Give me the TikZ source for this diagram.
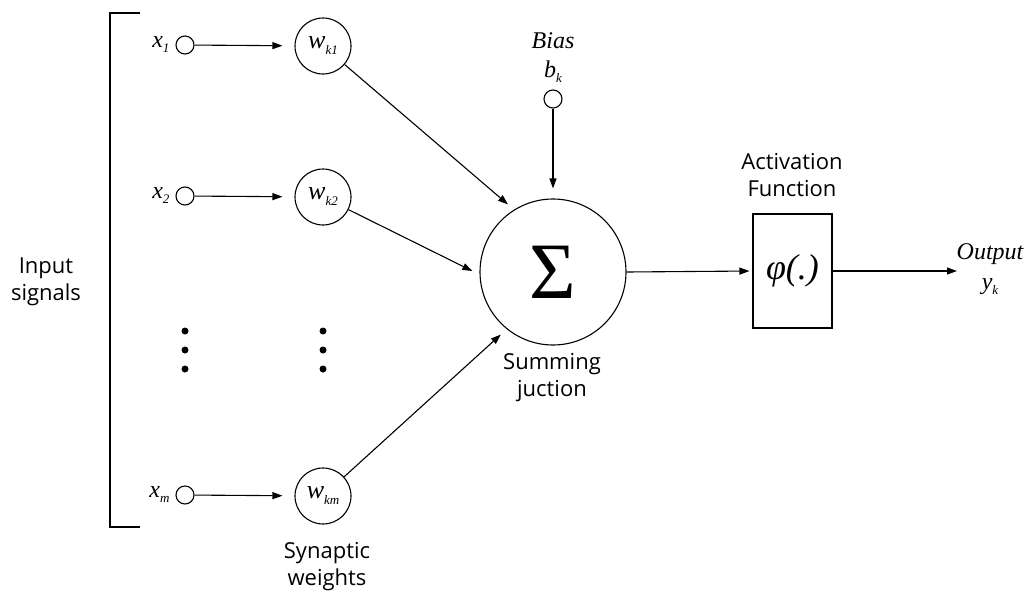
\documentclass[tikz,border=0pt]{standalone}
\usepackage{fontspec}
\setmainfont{Liberation Serif}
\newfontfamily\labfont{Open Sans}
\usetikzlibrary{arrows.meta}
\newcommand{\ssub}[1]{\raisebox{-0.5ex}{\fontsize{13}{13}\selectfont #1}}
\begin{document}
\begin{tikzpicture}[x=1pt,y=-1pt,
  line width=1.1pt,
  arr/.style={-{Triangle[length=10pt,width=7pt]}},
  io/.style={circle,draw,minimum size=18pt,inner sep=0pt},
  wt/.style={circle,draw,minimum size=56pt,inner sep=0pt,font=\itshape\fontsize{26}{26}\selectfont},
  sans/.style={font=\labfont\fontsize{22}{27}\selectfont,align=center,inner sep=0pt},
  ital/.style={font=\itshape\fontsize{24}{27}\selectfont,inner sep=0pt},
  dot/.style={circle,fill,minimum size=7pt,inner sep=0pt}
]
\useasboundingbox (0,0) rectangle (1028,592);

% bracket
\coordinate (bt) at (140,13);
\coordinate (bb) at (140,527);
\draw (bt) -- (110,13) -- (110,527) -- (bb);
\node[sans] (lin) at (46,282) {Input\\signals};

% inputs
\node[io] (x1) at (185,45) {};
\node[io] (x2) at (185,196) {};
\node[io] (xm) at (185,495) {};
\node[ital,anchor=base east] (lx1) at (170,47) {x\ssub{1}};
\node[ital,anchor=base east] (lx2) at (170,198) {x\ssub{2}};
\node[ital,anchor=base east] (lxm) at (170,497) {x\ssub{m}};

% weights
\node[wt] (w1) at (323,46) {w\ssub{k1}};
\node[wt] (w2) at (323,197) {w\ssub{k2}};
\node[wt] (wm) at (323,496) {w\ssub{km}};
\node[sans] (lsyn) at (327,567) {Synaptic\\weights};

\draw[arr,shorten >=12pt] (x1) -- (w1);
\draw[arr,shorten >=12pt] (x2) -- (w2);
\draw[arr,shorten >=12pt] (xm) -- (wm);

% dots
\node[dot] (d1) at (185,331) {};
\node[dot] (d2) at (185,350) {};
\node[dot] (d3) at (185,369) {};
\node[dot] (e1) at (323,331) {};
\node[dot] (e2) at (323,350) {};
\node[dot] (e3) at (323,369) {};

% summing junction
\node[circle,draw,minimum size=146pt,inner sep=0pt,font=\fontsize{80}{80}\selectfont] (sig) at (553,272) {Σ};
\node[sans] (lsum) at (552,378) {Summing\\juction};

\draw[arr,shorten >=8pt] (w1) -- (sig.122);
\draw[arr,shorten >=8pt] (w2) -- (sig.182);
\draw[arr,shorten >=8pt] (wm) -- (sig.231);

% bias
\node[io] (b) at (553,99) {};
\node[ital,anchor=base] (lbias) at (553,48) {Bias};
\node[ital,anchor=base] (lbk) at (553,77) {b\ssub{k}};
\draw[arr,shorten >=10pt] (b) -- (sig.north);

% activation
\node[draw,minimum width=79pt,minimum height=114pt,inner sep=0pt,font=\itshape\fontsize{36}{36}\selectfont] (act) at (792.5,271) {\raisebox{-5pt}{φ(.)}};
\node[sans] (lact) at (792,175) {Activation\\Function};
\draw[arr,shorten >=3pt] (sig.east) -- (act.west);

% output
\coordinate (out) at (957,271);
\draw[arr] (act.east) -- (out);
\node[ital,anchor=base] (lout) at (990,259) {Output};
\node[ital,anchor=base] (lyk) at (990,289) {y\ssub{k}};
\end{tikzpicture}
\end{document}
